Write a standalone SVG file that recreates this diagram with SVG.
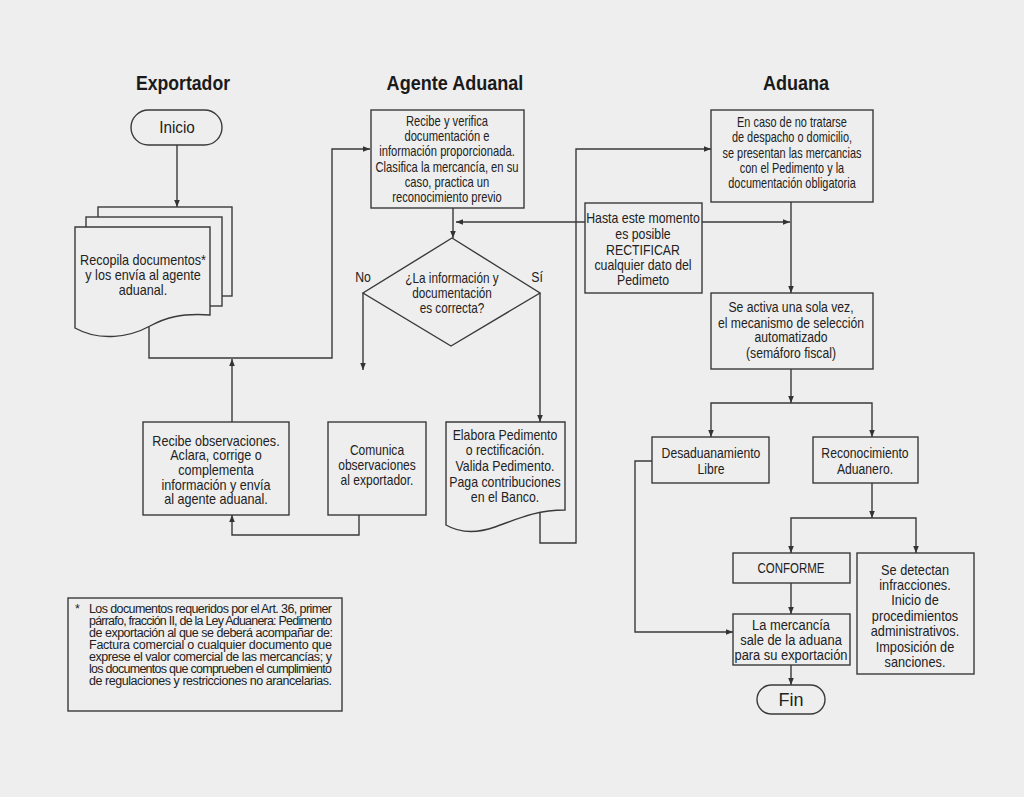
<svg xmlns="http://www.w3.org/2000/svg" width="1024" height="797" viewBox="0 0 1024 797">
<defs>
<style>
.bg{fill:#eeeeee}
.box{fill:#eeeeee;stroke:#3a3a3a;stroke-width:1.4}
.c{fill:none;stroke:#3a3a3a;stroke-width:1.4}
.t{font-family:"Liberation Sans",Arial,sans-serif;font-size:14px;fill:#222;text-anchor:middle}
.h{font-family:"Liberation Sans",Arial,sans-serif;font-size:21px;font-weight:bold;fill:#1a1a1a;text-anchor:middle}
.f{font-family:"Liberation Sans",Arial,sans-serif;font-size:12.5px;fill:#222}
</style>
<marker id="a" viewBox="0 0 10 10" refX="10" refY="5" markerWidth="7" markerHeight="7" markerUnits="userSpaceOnUse" orient="auto-start-reverse">
<path d="M0,1 L10,5 L0,9 z" fill="#333"/>
</marker>
</defs>
<rect class="bg" x="0" y="0" width="1024" height="797"/>

<g id="titles">
<text class="h" transform="translate(183,0) scale(0.84,1)" x="0" y="90">Exportador</text>
<text class="h" transform="translate(455,0) scale(0.86,1)" x="0" y="90">Agente Aduanal</text>
<text class="h" transform="translate(796,0) scale(0.86,1)" x="0" y="90">Aduana</text>
</g>

<g id="connectors">
<path class="c" d="M177,145 V207" marker-end="url(#a)"/>
<path class="c" d="M149,326 V358 H332 V149 H370" marker-end="url(#a)"/>
<path class="c" d="M232,422 V359" marker-end="url(#a)"/>
<path class="c" d="M453,208 V238" marker-end="url(#a)"/>
<path class="c" d="M456,222 H790" marker-start="url(#a)" marker-end="url(#a)"/>
<path class="c" d="M363,293 V370" marker-end="url(#a)"/>
<path class="c" d="M540,293 V422" marker-end="url(#a)"/>
<path class="c" d="M540,512 V543 H576 V149 H711" marker-end="url(#a)"/>
<path class="c" d="M359,515 V535 H232 V515" marker-end="url(#a)"/>
<path class="c" d="M791,202 V293" marker-end="url(#a)"/>
<path class="c" d="M791,369 V403" marker-end="url(#a)"/>
<path class="c" d="M791,403 H711 V437" marker-end="url(#a)"/>
<path class="c" d="M791,403 H872 V437" marker-end="url(#a)"/>
<path class="c" d="M872,483 V518" marker-end="url(#a)"/>
<path class="c" d="M872,518 H791 V553" marker-end="url(#a)"/>
<path class="c" d="M872,518 H916 V553" marker-end="url(#a)"/>
<path class="c" d="M652,461 H635 V632 H733" marker-end="url(#a)"/>
<path class="c" d="M791,583 V614" marker-end="url(#a)"/>
<path class="c" d="M791,665 V685" marker-end="url(#a)"/>
</g>

<g id="inicio">
<rect class="box" x="131" y="110" width="91" height="35" rx="17.5"/>
<text class="t" style="font-size:17px" transform="translate(177,0) scale(0.9,1)" x="0" y="133">Inicio</text>
</g>

<g id="recopila">
<rect class="box" x="98" y="207" width="134" height="89"/>
<rect class="box" x="86" y="217" width="136" height="89"/>
<path class="box" d="M75,227 H210 V315 C180,313 165,318 150,326 C130,337 100,342 75,328 Z"/>
<text class="t" transform="translate(143,0) scale(0.9,1)"><tspan x="0" y="265">Recopila documentos*</tspan><tspan x="0" y="280">y los envía al agente</tspan><tspan x="0" y="295">aduanal.</tspan></text>
</g>

<g id="recibe-verifica">
<rect class="box" x="371" y="110" width="153" height="98"/>
<text class="t" transform="translate(447,0) scale(0.8,1)"><tspan x="0" y="126">Recibe y verifica</tspan><tspan x="0" y="141">documentación e</tspan><tspan x="0" y="156">información proporcionada.</tspan><tspan x="0" y="172">Clasifica la mercancía, en su</tspan><tspan x="0" y="187">caso, practica un</tspan><tspan x="0" y="202">reconocimiento previo</tspan></text>
</g>

<g id="decision">
<path class="box" d="M452,238 L540,293 L451,346 L363,293 Z"/>
<text class="t" transform="translate(452,0) scale(0.84,1)"><tspan x="0" y="283">¿La información y</tspan><tspan x="0" y="298">documentación</tspan><tspan x="0" y="313">es correcta?</tspan></text>
<text class="t" style="font-size:15px" transform="translate(363,0) scale(0.82,1)" x="0" y="282">No</text>
<text class="t" style="font-size:15px" transform="translate(537,0) scale(0.82,1)" x="0" y="282">Sí</text>
</g>

<g id="recibe-obs">
<rect class="box" x="143" y="422" width="146" height="93"/>
<text class="t" transform="translate(216,0) scale(0.9,1)"><tspan x="0" y="446">Recibe observaciones.</tspan><tspan x="0" y="460">Aclara, corrige o</tspan><tspan x="0" y="475">complementa</tspan><tspan x="0" y="490">información y envía</tspan><tspan x="0" y="504">al agente aduanal.</tspan></text>
</g>

<g id="comunica">
<rect class="box" x="328" y="422" width="98" height="93"/>
<text class="t" transform="translate(377,0) scale(0.86,1)"><tspan x="0" y="455">Comunica</tspan><tspan x="0" y="470">observaciones</tspan><tspan x="0" y="485">al exportador.</tspan></text>
</g>

<g id="elabora">
<path class="box" d="M446,422 H565 V510 C535,510 515,520 495,527 C475,534 458,532 446,525 Z"/>
<text class="t" transform="translate(505,0) scale(0.88,1)"><tspan x="0" y="440">Elabora Pedimento</tspan><tspan x="0" y="455">o rectificación.</tspan><tspan x="0" y="471">Valida Pedimento.</tspan><tspan x="0" y="487">Paga contribuciones</tspan><tspan x="0" y="502">en el Banco.</tspan></text>
</g>

<g id="presentan">
<rect class="box" x="711" y="110" width="162" height="92"/>
<text class="t" transform="translate(792,0) scale(0.78,1)"><tspan x="0" y="127">En caso de no tratarse</tspan><tspan x="0" y="142">de despacho o domicilio,</tspan><tspan x="0" y="158">se presentan las mercancias</tspan><tspan x="0" y="173">con el Pedimento y la</tspan><tspan x="0" y="188">documentación obligatoria</tspan></text>
</g>

<g id="hasta">
<rect class="box" x="585" y="203" width="117" height="90"/>
<text class="t" transform="translate(643,0) scale(0.88,1)"><tspan x="0" y="223">Hasta este momento</tspan><tspan x="0" y="239">es posible</tspan><tspan x="0" y="255">RECTIFICAR</tspan><tspan x="0" y="270">cualquier dato del</tspan><tspan x="0" y="285">Pedimeto</tspan></text>
</g>

<g id="semaforo">
<rect class="box" x="711" y="293" width="162" height="76"/>
<text class="t" transform="translate(791,0) scale(0.87,1)"><tspan x="0" y="312">Se activa una sola vez,</tspan><tspan x="0" y="328">el mecanismo de selección</tspan><tspan x="0" y="342">automatizado</tspan><tspan x="0" y="358">(semáforo fiscal)</tspan></text>
</g>

<g id="desaduanamiento">
<rect class="box" x="652" y="437" width="117" height="46"/>
<text class="t" transform="translate(711,0) scale(0.87,1)"><tspan x="0" y="458">Desaduanamiento</tspan><tspan x="0" y="474">Libre</tspan></text>
</g>

<g id="reconocimiento">
<rect class="box" x="813" y="437" width="105" height="46"/>
<text class="t" transform="translate(865,0) scale(0.87,1)"><tspan x="0" y="458">Reconocimiento</tspan><tspan x="0" y="474">Aduanero.</tspan></text>
</g>

<g id="conforme">
<rect class="box" x="733" y="553" width="117" height="30"/>
<text class="t" transform="translate(791,0) scale(0.82,1)" x="0" y="573">CONFORME</text>
</g>

<g id="sale">
<rect class="box" x="733" y="614" width="117" height="51"/>
<text class="t" transform="translate(791,0) scale(0.92,1)"><tspan x="0" y="630">La mercancía</tspan><tspan x="0" y="645">sale de la aduana</tspan><tspan x="0" y="660">para su exportación</tspan></text>
</g>

<g id="infracciones">
<rect class="box" x="857" y="553" width="117" height="121"/>
<text class="t" transform="translate(915,0) scale(0.91,1)"><tspan x="0" y="575">Se detectan</tspan><tspan x="0" y="590">infracciones.</tspan><tspan x="0" y="605">Inicio de</tspan><tspan x="0" y="621">procedimientos</tspan><tspan x="0" y="636">administrativos.</tspan><tspan x="0" y="652">Imposición de</tspan><tspan x="0" y="667">sanciones.</tspan></text>
</g>

<g id="fin">
<rect class="box" x="757" y="685" width="68" height="29" rx="14.5"/>
<text class="t" style="font-size:18px" x="791" y="706">Fin</text>
</g>

<g id="nota">
<rect class="box" x="68" y="598" width="274" height="113"/>
<text class="f" x="75" y="613">*</text>
<text class="f" lengthAdjust="spacingAndGlyphs"><tspan x="89" y="613" textLength="243">Los documentos requeridos por el Art. 36, primer</tspan></text>
<text class="f" lengthAdjust="spacingAndGlyphs"><tspan x="89" y="625" textLength="243">párrafo, fracción II, de la Ley Aduanera: Pedimento</tspan></text>
<text class="f" lengthAdjust="spacingAndGlyphs"><tspan x="89" y="637" textLength="244">de exportación al que se deberá acompañar de:</tspan></text>
<text class="f" lengthAdjust="spacingAndGlyphs"><tspan x="89" y="649" textLength="243">Factura comercial o cualquier documento que</tspan></text>
<text class="f" lengthAdjust="spacingAndGlyphs"><tspan x="89" y="661" textLength="243">exprese el valor  comercial de las mercancías; y</tspan></text>
<text class="f" lengthAdjust="spacingAndGlyphs"><tspan x="89" y="673" textLength="243">los documentos que comprueben el cumplimiento</tspan></text>
<text class="f" lengthAdjust="spacingAndGlyphs"><tspan x="89" y="685" textLength="243">de regulaciones y restricciones no arancelarias.</tspan></text>
</g>
</svg>
